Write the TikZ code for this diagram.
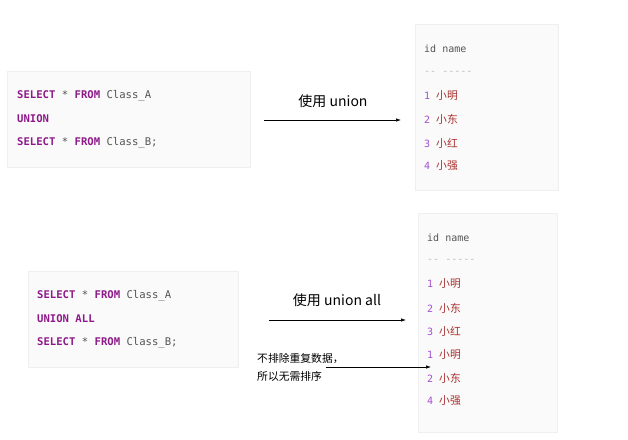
\documentclass[tikz,border=0pt]{standalone}
\usepackage{fontspec}
\setmonofont{DejaVu Sans Mono}
\newfontfamily\cjk{Noto Sans CJK SC}
\usetikzlibrary{arrows.meta}
\definecolor{kw}{HTML}{8E1A8A}
\definecolor{code}{HTML}{555555}
\definecolor{num}{HTML}{A44FD0}
\definecolor{nm}{HTML}{A8302F}
\definecolor{dash}{HTML}{BBBBBB}
\definecolor{boxfill}{HTML}{FAFAFA}
\definecolor{boxline}{HTML}{EFEFEF}
\tikzset{
  panel/.style={draw=boxline, fill=boxfill, line width=0.6pt},
  codeline/.style={anchor=west, inner sep=0pt, font=\ttfamily\fontsize{10.6}{12}\selectfont, text=code},
  rowline/.style={anchor=west, inner sep=0pt, font=\ttfamily\fontsize{10}{12}\selectfont, text=code},
  lbl/.style={inner sep=0pt, font=\cjk\fontsize{14}{16}\selectfont},
  note/.style={anchor=west, inner sep=0pt, font=\cjk\fontsize{10.8}{12}\selectfont},
  arr/.style={draw=black, line width=0.7pt, -{Latex[length=5pt,width=3.5pt]}}
}
\newcommand{\kwd}[1]{\textcolor{kw}{\bfseries #1}}
\newcommand{\rowx}[2]{\textcolor{num}{#1} \textcolor{nm}{\cjk\fontsize{10.8}{12}\selectfont #2}}
\begin{document}
\begin{tikzpicture}[x=1pt,y=-1pt]
\useasboundingbox (0,0) rectangle (628,439);
% panels
\path[panel] (7,71) rectangle (250,167);
\path[panel] (415,24) rectangle (558,190);
\path[panel] (28,271) rectangle (238,367);
\path[panel] (418,213) rectangle (557,432);
% query 1
\node[codeline] (q1a) at (17,96) {\kwd{SELECT} * \kwd{FROM} Class\_A};
\node[codeline] (q1b) at (17,119) {\kwd{UNION}};
\node[codeline] (q1c) at (17,143) {\kwd{SELECT} * \kwd{FROM} Class\_B;};
% result 1
\node[rowline] (r1h) at (424,49) {id name};
\node[rowline, text=dash] (r1d) at (424,73) {-- -----};
\node[rowline] (r11) at (424,96) {\rowx{1}{小明}};
\node[rowline] (r12) at (424,119) {\rowx{2}{小东}};
\node[rowline] (r13) at (424,143) {\rowx{3}{小红}};
\node[rowline] (r14) at (424,166) {\rowx{4}{小强}};
% arrow 1
\coordinate (a1s) at (264,120);
\coordinate (a1e) at (401,120);
\draw[arr] (a1s) -- (a1e);
\node[lbl] (l1) at (333,101) {使用 union};
% query 2
\node[codeline] (q2a) at (37,296) {\kwd{SELECT} * \kwd{FROM} Class\_A};
\node[codeline] (q2b) at (37,319) {\kwd{UNION ALL}};
\node[codeline] (q2c) at (37,343) {\kwd{SELECT} * \kwd{FROM} Class\_B;};
% result 2
\node[rowline] (r2h) at (427,238) {id name};
\node[rowline, text=dash] (r2d) at (427,261) {-- -----};
\node[rowline] (r21) at (427,284) {\rowx{1}{小明}};
\node[rowline] (r22) at (427,308) {\rowx{2}{小东}};
\node[rowline] (r23) at (427,331) {\rowx{3}{小红}};
\node[rowline] (r24) at (427,355) {\rowx{1}{小明}};
\node[rowline] (r25) at (427,378) {\rowx{2}{小东}};
\node[rowline] (r26) at (427,401) {\rowx{4}{小强}};
% arrow 2
\coordinate (a2s) at (269,320);
\coordinate (a2e) at (406,320);
\draw[arr] (a2s) -- (a2e);
\node[lbl] (l2) at (337,300) {使用 union all};
% note arrow
\node[note] (n1) at (257,358) {不排除重复数据，};
\node[note] (n2) at (257,376) {所以无需排序};
\coordinate (a3s) at (326,367);
\coordinate (a3e) at (431,367);
\draw[arr] (a3s) -- (a3e);
\end{tikzpicture}
\end{document}
